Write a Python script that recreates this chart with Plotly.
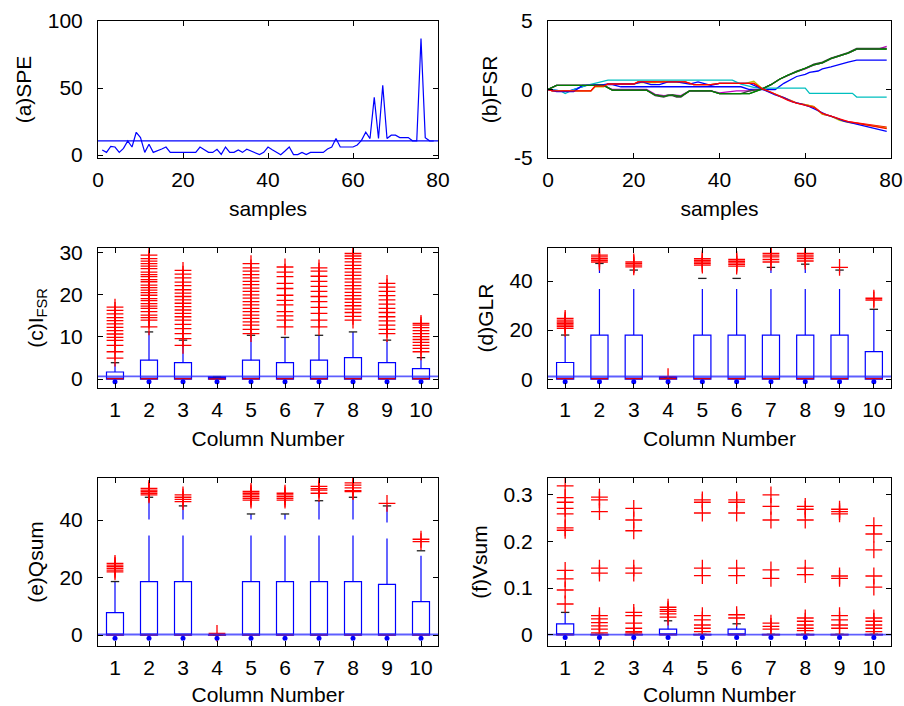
import plotly.graph_objects as go

# ---------------- (a) SPE ----------------
spe_samples = list(range(1, 80))
spe_values = [3.8, 2, 6.5, 6, 2, 5, 10.6, 6, 17, 13,
              2, 8, 2, 3, 4.5, 6, 2, 2, 2, 2,
              2, 2, 2, 6, 4, 2, 2, 4.3, 0.5, 6,
              2, 2, 3.8, 2, 4.3, 3, 1.5, 0.3, 2, 6,
              4, 2, 0.3, 3, 6, 0.3, 0.3, 2, 0.3, 2,
              2, 2, 2, 4.5, 6, 12.3, 6, 6, 6, 6,
              7.5, 11, 17, 12.3, 43, 12.3, 52, 12.3, 14.8, 14.8,
              13, 13, 13, 10.6, 10.6, 87, 13, 10.6, 10.5]
spe_limit = 10.6

# ---------------- (b) FSR, one path per column ----------------
fsr_colors = ["#0000ff", "#008000", "#ff0000", "#00bfbf", "#bf00bf",
              "#bfbf00", "#404040", "#0000ff", "#008000", "#ff0000"]
fsr1_x = [0, 3, 5, 9, 11, 15, 17, 45, 47, 53, 55, 57, 58, 60, 61, 63, 64, 66, 67, 69, 70, 72, 79]
fsr1_y = [0, -0.1, -0.1, 0.3, 0.35, 0.35, 0.2, 0.2, 0.0, 0.0, 0.45, 0.8, 0.95, 1.1, 1.25, 1.35, 1.5, 1.65, 1.75, 1.9, 2.0, 2.15, 2.15]
fsr2_x = [0, 2, 13, 15, 23, 25, 27, 28, 29, 30, 31, 33, 38, 40, 47, 50, 52, 54, 56, 58, 60, 62, 64, 66, 68, 70, 72, 79]
fsr2_y = [0, 0.3, 0.3, -0.05, -0.05, -0.4, -0.5, -0.4, -0.4, -0.5, -0.5, -0.1, -0.1, -0.3, -0.3, 0.05, 0.35, 0.75, 1.05, 1.3, 1.5, 1.8, 1.95, 2.25, 2.45, 2.65, 2.95, 2.95]
fsr3_x = [0, 1, 10, 11, 13, 14, 20, 21, 32, 34, 38, 40, 48, 50, 52, 54, 55, 57, 58, 60, 62, 63, 64, 66, 67, 68, 70, 72, 74, 76, 79]
fsr3_y = [0, -0.1, -0.1, 0.25, 0.25, 0.4, 0.4, 0.55, 0.55, 0.35, 0.35, 0.45, 0.45, 0.05, -0.2, -0.5, -0.6, -0.85, -1.0, -1.1, -1.25, -1.5, -1.8, -1.95, -2.1, -2.2, -2.35, -2.45, -2.55, -2.65, -2.75]
fsr4_x = [0, 3, 4, 6, 9, 12, 14, 43, 45, 48, 50, 60, 61, 71, 72, 79]
fsr4_y = [0, -0.1, -0.3, 0, 0.3, 0.55, 0.69, 0.69, 0.4, 0.15, 0.1, 0.1, -0.28, -0.28, -0.55, -0.55]
fsr5_x = [0, 2, 13, 15, 23, 25, 27, 29, 31, 33, 38, 40, 44, 47, 50, 52, 54, 56, 58, 60, 62, 64, 66, 68, 70, 72, 77, 79]
fsr5_y = [0, 0.3, 0.3, 0.0, 0.0, -0.35, -0.45, -0.4, -0.45, -0.1, -0.1, -0.25, -0.1, -0.1, 0.05, 0.35, 0.75, 1.05, 1.3, 1.5, 1.8, 1.95, 2.25, 2.45, 2.65, 2.95, 2.95, 3.15]
fsr6_x = [0, 1, 10, 11, 13, 14, 20, 21, 25, 27, 32, 34, 38, 40, 46, 48, 50, 52, 54, 55, 57, 58, 60, 62, 63, 64, 66, 67, 68, 70, 72, 74, 76, 79]
fsr6_y = [0, -0.1, -0.1, 0.2, 0.2, 0.4, 0.4, 0.5, 0.5, 0.6, 0.5, 0.35, 0.35, 0.45, 0.45, 0.6, 0.05, -0.2, -0.5, -0.6, -0.85, -1.0, -1.1, -1.25, -1.55, -1.8, -1.95, -2.1, -2.25, -2.4, -2.5, -2.6, -2.7, -2.8]
fsr7_x = [0, 2, 13, 15, 23, 25, 27, 28, 29, 30, 31, 33, 38, 40, 45, 47, 50, 52, 54, 56, 58, 60, 62, 64, 66, 68, 70, 72, 79]
fsr7_y = [0, 0.3, 0.3, -0.05, -0.05, -0.45, -0.55, -0.45, -0.45, -0.55, -0.55, -0.1, -0.1, -0.3, -0.3, -0.1, 0.05, 0.35, 0.75, 1.05, 1.35, 1.55, 1.85, 2.0, 2.3, 2.5, 2.7, 3.0, 3.0]
fsr8_x = [0, 2, 6, 8, 12, 14, 20, 22, 24, 26, 28, 30, 33, 35, 38, 40, 47, 49, 51, 53, 55, 57, 59, 61, 63, 65, 67, 69, 71, 73, 76, 79]
fsr8_y = [0, -0.15, -0.15, 0.3, 0.3, 0.4, 0.4, 0.55, 0.35, 0.35, 0.55, 0.55, 0.4, 0.55, 0.3, 0.45, 0.45, 0.15, -0.1, -0.4, -0.6, -0.9, -1.05, -1.25, -1.55, -1.85, -2.05, -2.3, -2.45, -2.6, -2.8, -3.05]
fsr9_x = [0, 2, 13, 15, 23, 25, 27, 29, 31, 33, 38, 40, 47, 50, 52, 54, 56, 58, 60, 62, 64, 66, 68, 70, 72, 79]
fsr9_y = [0, 0.3, 0.3, -0.05, -0.05, -0.4, -0.5, -0.4, -0.5, -0.1, -0.1, -0.3, -0.3, 0.05, 0.35, 0.75, 1.05, 1.3, 1.5, 1.8, 1.95, 2.25, 2.45, 2.65, 2.95, 2.95]
fsr10_x = [0, 1, 10, 11, 13, 14, 20, 21, 32, 34, 38, 40, 48, 50, 52, 54, 56, 58, 60, 62, 64, 66, 68, 70, 72, 74, 77, 79]
fsr10_y = [0, -0.1, -0.1, 0.25, 0.25, 0.4, 0.4, 0.55, 0.55, 0.35, 0.35, 0.45, 0.45, 0.05, -0.2, -0.5, -0.8, -1.0, -1.15, -1.3, -1.75, -1.95, -2.2, -2.35, -2.45, -2.55, -2.75, -2.85]
fsr_x = [fsr1_x, fsr2_x, fsr3_x, fsr4_x, fsr5_x, fsr6_x, fsr7_x, fsr8_x, fsr9_x, fsr10_x]
fsr_y = [fsr1_y, fsr2_y, fsr3_y, fsr4_y, fsr5_y, fsr6_y, fsr7_y, fsr8_y, fsr9_y, fsr10_y]

# ---------------- box plot statistics, columns 1..10 ----------------
columns = list(range(1, 11))

# (c) I_FSR
c_q1 = [0, 0, 0, 0, 0, 0, 0, 0, 0, 0]
c_med = [0.1, 0.1, 0.1, 0.05, 0.1, 0.1, 0.1, 0.1, 0.1, 0.1]
c_q3 = [1.7, 4.5, 3.9, 0.55, 4.5, 3.9, 4.5, 5.1, 3.9, 2.5]
c_cap = [3.9, 11.2, 9.25, 0.6, 10.4, 9.9, 10.4, 11.2, 9.25, 5.1]
c_out = [
    [5.0, 6.5, 8.0, 9.2, 9.9, 10.7, 11.5, 12.3, 13.1, 13.9, 14.6, 15.5, 16.3, 17.1],
    [12.4, 14.0, 14.6, 15.2, 16.0, 16.8, 17.3, 17.9, 18.6, 19.1, 19.9, 20.5, 21.1, 21.7, 22.3, 23.1, 23.6, 24.3, 24.8, 25.4, 26.2, 26.8, 27.4, 28.0, 28.6, 29.4],
    [8.0, 9.6, 10.8, 12.0, 13.0, 14.0, 14.8, 15.6, 16.4, 17.2, 18.0, 18.8, 19.6, 20.4, 21.2, 22.2, 23.0, 24.0, 24.9, 25.8],
    [],
    [10.8, 11.8, 12.8, 13.6, 14.4, 15.2, 16.0, 16.8, 17.6, 18.4, 19.2, 20.0, 20.8, 21.6, 22.4, 23.2, 24.0, 24.8, 25.6, 26.4, 27.4],
    [12.4, 14.0, 15.0, 16.0, 17.6, 18.7, 19.9, 21.5, 22.7, 24.3, 25.4, 26.6],
    [12.4, 14.0, 15.6, 17.0, 18.4, 19.6, 20.8, 22.0, 23.2, 24.4, 25.6, 26.4],
    [14.0, 14.9, 15.8, 16.6, 17.4, 18.2, 19.0, 19.8, 20.6, 21.4, 22.2, 23.0, 23.8, 24.6, 25.4, 26.2, 27.0, 27.8, 28.6, 29.2, 29.8],
    [10.8, 11.8, 12.8, 13.8, 14.8, 15.8, 16.8, 17.8, 18.8, 19.8, 20.8, 21.8, 22.7],
    [6.5, 7.3, 8.0, 8.7, 9.4, 10.1, 10.8, 11.5, 12.2, 12.8, 13.2],
]
c_limit = 0.65
c_low = -0.6

# (d) GLR
d_q1 = [0, 0, 0, 0, 0, 0, 0, 0, 0, 0]
d_med = [0.2, 0.2, 0.2, 0.2, 0.2, 0.2, 0.2, 0.2, 0.2, 0.2]
d_q3 = [6.8, 18.0, 18.0, 0.8, 18.0, 18.0, 18.0, 18.0, 18.0, 11.2]
d_cap = [18.0, 47.2, 44.5, 0.9, 41.1, 41.1, 45.6, 46.9, 44.5, 28.5]
d_out = [
    [20.7, 21.4, 22.1, 22.8, 23.4, 24.1, 24.8],
    [47.8, 48.5, 49.2, 49.9, 50.6],
    [45.8, 46.5, 47.1, 47.8],
    [1.0],
    [46.5, 47.1, 47.8, 48.5, 49.2],
    [46.1, 46.8, 47.4, 48.1, 48.8],
    [47.8, 48.8, 49.9, 50.6, 51.3],
    [48.2, 49.2, 49.9, 50.6, 51.3],
    [45.6],
    [32.3, 33.0],
]
d_limit = 1.1
d_low = -1.0

# (e) Qsum
e_q1 = [0, 0, 0, 0, 0, 0, 0, 0, 0, 0]
e_med = [0.1, 0.1, 0.1, 0.05, 0.1, 0.1, 0.1, 0.1, 0.1, 0.1]
e_q3 = [7.8, 18.6, 18.6, 0.1, 18.6, 18.6, 18.6, 18.6, 17.6, 11.6]
e_cap = [18.6, 47.9, 44.9, 0.1, 42.1, 42.1, 46.7, 47.9, 44.9, 29.3]
e_out = [
    [22.0, 22.6, 23.2, 23.8, 24.3, 24.9],
    [48.7, 49.3, 49.9, 50.4, 51.0],
    [46.4, 47.2, 47.9, 48.7],
    [0.6],
    [46.9, 47.5, 48.1, 48.7, 49.3, 49.9],
    [46.9, 47.5, 48.1, 48.7, 49.3],
    [49.3, 50.4, 50.9, 51.7],
    [49.9, 50.2, 51.2, 52.1, 52.9],
    [45.8],
    [32.5, 33.3],
]
e_limit = 0.2
e_low = -1.1

# (f) Vsum
f_q1 = [0, 0, 0, 0, 0, 0, 0, 0, 0, 0]
f_med = [0.0005, 0.0005, 0.0005, 0.0005, 0.0005, 0.0005, 0.0005, 0.0005, 0.0005, 0.0005]
f_q3 = [0.0236, 0.001, 0.001, 0.0121, 0.001, 0.0121, 0.001, 0.001, 0.001, 0.001]
f_cap = [0.048, 0.001, 0.001, 0.030, 0.001, 0.0236, 0.001, 0.001, 0.001, 0.001]
f_out = [
    [0.319, 0.294, 0.284, 0.271, 0.259, 0.229, 0.224, 0.138, 0.120, 0.096, 0.066],
    [0.295, 0.289, 0.264, 0.143, 0.132, 0.041, 0.034, 0.026, 0.019, 0.012, 0.004],
    [0.271, 0.246, 0.223, 0.143, 0.132, 0.048, 0.041, 0.025, 0.014, 0.007, 0.004],
    [0.059, 0.054, 0.050, 0.045, 0.038],
    [0.289, 0.284, 0.261, 0.143, 0.127, 0.041, 0.032, 0.021, 0.014, 0.007],
    [0.289, 0.284, 0.261, 0.143, 0.127, 0.043, 0.036],
    [0.300, 0.275, 0.246, 0.139, 0.121, 0.025, 0.018, 0.012],
    [0.275, 0.269, 0.246, 0.143, 0.129, 0.036, 0.029, 0.021, 0.014, 0.009],
    [0.269, 0.264, 0.259, 0.126, 0.121, 0.041, 0.032, 0.021, 0.014],
    [0.234, 0.216, 0.182, 0.126, 0.102, 0.036, 0.029, 0.021, 0.014, 0.007],
]
f_limit = 0.0005
f_low = -0.006

FONT = "Liberation Sans, Arial, Helvetica, sans-serif"
BLUE = "#0000ff"

fig = go.Figure()

# (a) SPE trace and control limit
fig.add_trace(go.Scatter(x=spe_samples, y=spe_values, mode="lines",
                         line=dict(color=BLUE, width=1.2), xaxis="x", yaxis="y"))
fig.add_trace(go.Scatter(x=[0, 80], y=[spe_limit, spe_limit], mode="lines",
                         line=dict(color=BLUE, width=1.2), xaxis="x", yaxis="y"))

# (b) FSR paths
for xs, ys, col in zip(fsr_x, fsr_y, fsr_colors):
    fig.add_trace(go.Scatter(x=xs, y=ys, mode="lines", line=dict(color=col, width=1.3),
                             xaxis="x2", yaxis="y2"))


def add_boxes(q1, med, q3, cap, out, limit, low, ax):
    xa, ya = "x" + ax, "y" + ax
    fig.add_trace(go.Box(x=columns, q1=q1, median=med, q3=q3, lowerfence=q1, upperfence=q3,
                         width=0.5, whiskerwidth=0, boxpoints=False,
                         line=dict(color=BLUE, width=1.2), fillcolor="rgba(255,255,255,0)",
                         xaxis=xa, yaxis=ya))
    # dashed upper whiskers
    for c, top, w in zip(columns, q3, cap):
        if w > top:
            fig.add_trace(go.Scatter(x=[c, c], y=[top, w], mode="lines",
                                     line=dict(color=BLUE, width=1.2, dash="46px,16px"),
                                     xaxis=xa, yaxis=ya))
    # whisker caps
    fig.add_trace(go.Scatter(x=columns, y=cap, mode="markers",
                             marker=dict(symbol="line-ew", size=6,
                                         line=dict(color="#202020", width=1.3)),
                             xaxis=xa, yaxis=ya))
    # outliers
    ox, oy = [], []
    for c, vals in zip(columns, out):
        ox += [c] * len(vals)
        oy += vals
    fig.add_trace(go.Scatter(x=ox, y=oy, mode="markers",
                             marker=dict(symbol="cross-thin", size=12,
                                         line=dict(color="#ff0000", width=1.3)),
                             xaxis=xa, yaxis=ya))
    # medians
    fig.add_trace(go.Scatter(x=columns, y=med, mode="markers",
                             marker=dict(symbol="line-ew", size=12,
                                         line=dict(color="#e00000", width=1.3)),
                             xaxis=xa, yaxis=ya))
    # control limit across the axes
    fig.add_trace(go.Scatter(x=[0.5, 10.5], y=[limit, limit], mode="lines",
                             line=dict(color="rgba(40,40,255,0.75)", width=1.8),
                             xaxis=xa, yaxis=ya))
    # lower sample markers
    fig.add_trace(go.Scatter(x=columns, y=[low] * len(columns), mode="markers",
                             marker=dict(symbol="circle", size=5, color=BLUE),
                             xaxis=xa, yaxis=ya))


add_boxes(c_q1, c_med, c_q3, c_cap, c_out, c_limit, c_low, "3")
add_boxes(d_q1, d_med, d_q3, d_cap, d_out, d_limit, d_low, "4")
add_boxes(e_q1, e_med, e_q3, e_cap, e_out, e_limit, e_low, "5")
add_boxes(f_q1, f_med, f_q3, f_cap, f_out, f_limit, f_low, "6")

W, H = 904, 706
colL = [98 / W, 438 / W]
colR = [548 / W, 891 / W]
row1 = [1 - 158 / H, 1 - 21 / H]
row2 = [1 - 388 / H, 1 - 248 / H]
row3 = [1 - 646 / H, 1 - 478 / H]


def xax(domain, anchor, rng, tickvals, title):
    return dict(domain=domain, anchor=anchor, range=rng, tickvals=tickvals,
                showline=True, linecolor="black", linewidth=1, mirror="ticks",
                ticks="inside", ticklen=5, tickcolor="black", showgrid=False,
                zeroline=False, ticklabelstandoff=3, automargin=False,
                title=dict(text=title, standoff=11, font=dict(size=21)))


def yax(domain, anchor, rng, tickvals, ticktext, title):
    return dict(domain=domain, anchor=anchor, range=rng, tickvals=tickvals, ticktext=ticktext,
                showline=True, linecolor="black", linewidth=1, mirror="ticks",
                ticks="inside", ticklen=5, tickcolor="black", showgrid=False,
                zeroline=False, ticklabelstandoff=10, automargin=False,
                title=dict(text=title, standoff=10, font=dict(size=21)))


fig.update_layout(
    width=W, height=H, margin=dict(l=0, r=0, t=0, b=0, autoexpand=False),
    paper_bgcolor="white", plot_bgcolor="white", showlegend=False,
    font=dict(family=FONT, size=21, color="black"),
    xaxis=xax(colL, "y", [0, 80], [0, 20, 40, 60, 80], "samples"),
    yaxis=yax(row1, "x", [-2.2, 100], [0, 50, 100], ["0", "50", "100"], "(a)SPE"),
    xaxis2=xax(colR, "y2", [0, 80], [0, 20, 40, 60, 80], "samples"),
    yaxis2=yax(row1, "x2", [-5, 5], [-5, 0, 5], ["-5", "0", "5"], "(b)FSR"),
    xaxis3=xax(colL, "y3", [0.5, 10.5], columns, "Column Number"),
    yaxis3=yax(row2, "x3", [-2.1, 31.1], [0, 10, 20, 30], ["0", "10", "20", "30"], "(c)I<sub>FSR</sub>"),
    xaxis4=xax(colR, "y4", [0.5, 10.5], columns, "Column Number"),
    yaxis4=yax(row2, "x4", [-3.6, 53.5], [0, 20, 40], ["0", "20", "40"], "(d)GLR"),
    xaxis5=xax(colL, "y5", [0.5, 10.5], columns, "Column Number"),
    yaxis5=yax(row3, "x5", [-3.8, 54.6], [0, 20, 40], ["0", "20", "40"], "(e)Qsum"),
    xaxis6=xax(colR, "y6", [0.5, 10.5], columns, "Column Number"),
    yaxis6=yax(row3, "x6", [-0.024, 0.336], [0, 0.1, 0.2, 0.3], ["0", "0.1", "0.2", "0.3"], "(f)Vsum"),
)

fig.write_html("out.html")
